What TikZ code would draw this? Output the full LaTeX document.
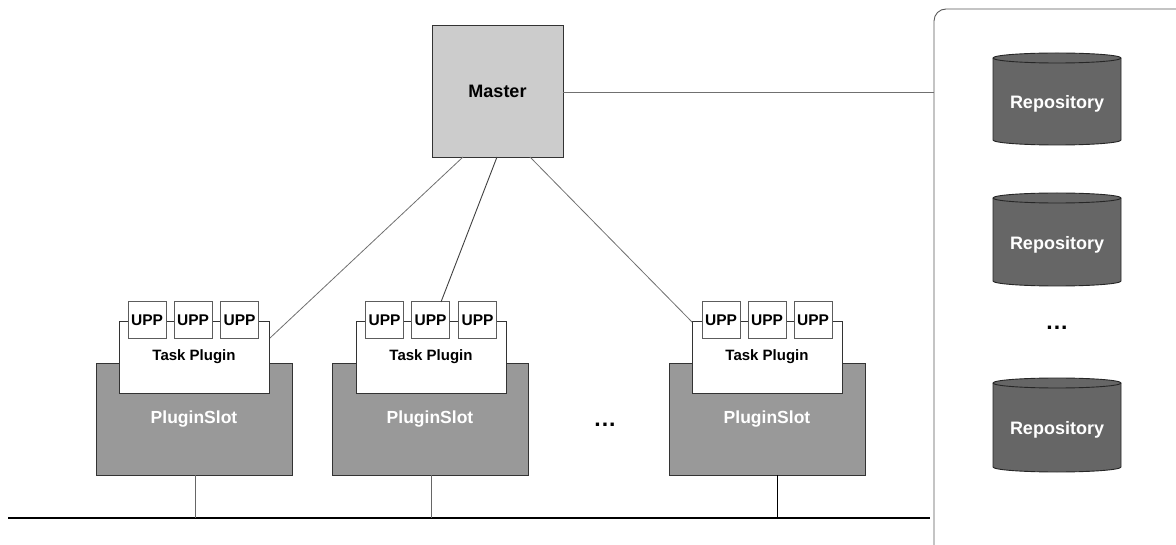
\documentclass[tikz,border=0pt]{standalone}
\usepackage{fontspec}
\setmainfont{Liberation Sans}
\usetikzlibrary{calc}
\definecolor{masterfill}{HTML}{CCCCCC}
\definecolor{slotfill}{HTML}{999999}
\definecolor{repofill}{HTML}{666666}
\definecolor{edgegray}{HTML}{333333}
\definecolor{linegray}{HTML}{707070}
\tikzset{
  masterbox/.style={draw=edgegray, fill=masterfill, line width=0.9pt, minimum width=131pt, minimum height=132pt, inner sep=0pt, font=\fontsize{18}{20}\selectfont\bfseries},
  slotbox/.style={draw=edgegray, fill=slotfill, line width=0.9pt, minimum width=196pt, minimum height=112pt, inner sep=0pt, text=white, font=\fontsize{17.5}{20}\selectfont\bfseries},
  taskbox/.style={draw=edgegray, fill=white, line width=0.8pt, minimum width=150pt, minimum height=72pt, inner sep=0pt, font=\fontsize{15}{18}\selectfont\bfseries},
  uppbox/.style={draw=edgegray!80, fill=white, line width=0.8pt, minimum width=38pt, minimum height=37pt, inner sep=0pt, font=\fontsize{15.5}{18}\selectfont\bfseries},
  conn/.style={draw=linegray, line width=0.8pt},
  repo/.style={draw=black!85, fill=repofill, line width=0.9pt},
  repolabel/.style={text=white, inner sep=0pt, font=\fontsize{18}{20}\selectfont\bfseries},
  dotslabel/.style={inner sep=0pt, font=\fontsize{23}{25}\selectfont\bfseries},
}
\begin{document}
\begin{tikzpicture}[x=1pt,y=-1pt]
\useasboundingbox (0,0) rectangle (1176,545);
\clip (0,0) rectangle (1176,545);
% repository container
\draw[draw=black!65, line width=0.9pt, rounded corners=12pt] (934,9) rectangle (1190,570);
% master
\node[masterbox] (master) at (497.5,91) {Master};
\coordinate (mr) at (563,92);
\coordinate (cl) at (934,92);
\draw[conn] (mr) -- (cl);
% slots
\node[slotbox] (slot1) at (194,419) {PluginSlot};
\node[slotbox] (slot2) at (430,419) {PluginSlot};
\node[slotbox] (slot3) at (767,419) {PluginSlot};
% task plugins
\node[taskbox] (tp1) at (194,357) {Task Plugin};
\node[taskbox] (tp2) at (431,357) {Task Plugin};
\node[taskbox] (tp3) at (767,357) {Task Plugin};
% UPPs
\node[uppbox] (u11) at (147,320) {UPP};
\node[uppbox] (u12) at (193,320) {UPP};
\node[uppbox] (u13) at (239.5,320) {UPP};
\node[uppbox] (u21) at (384.5,320) {UPP};
\node[uppbox] (u22) at (430.5,320) {UPP};
\node[uppbox] (u23) at (477.5,320) {UPP};
\node[uppbox] (u31) at (721,320) {UPP};
\node[uppbox] (u32) at (767,320) {UPP};
\node[uppbox] (u33) at (813,320) {UPP};
% master connectors
\coordinate (ms1) at (463,157);
\coordinate (ms2) at (497,157);
\coordinate (ms3) at (530,157);
\coordinate (e1) at (270,338);
\coordinate (e2) at (441,302);
\coordinate (e3) at (692,322);
\draw[conn] (ms1) -- (e1);
\draw[draw=black!75, line width=0.9pt] (ms2) -- (e2);
\draw[conn] (ms3) -- (e3);
% bus
\coordinate (busl) at (8,518);
\coordinate (busr) at (930,518);
\draw[black, line width=2.6pt] (busl) -- (busr);
\coordinate (b1) at (195,518);
\coordinate (b2) at (431,518);
\coordinate (b3) at (777,518);
\coordinate (s3b) at (777,475);
\draw[draw=black!60, line width=0.9pt] (slot1.south -| b1) -- (b1);
\draw[draw=black!60, line width=0.9pt] (slot2.south -| b2) -- (b2);
\draw[draw=black, line width=0.9pt] (s3b) -- (b3);
% dots
\node[dotslabel] (dots1) at (605,425) {.\kern1pt.\kern1pt.};
% repositories
\foreach \t/\b/\n in {53/145/r1, 193/286/r2, 378/472/r3}{
  \path[repo] (993,\t+5) -- (993,\b-5) arc[start angle=180,end angle=360,x radius=64pt,y radius=5pt] -- (1121,\t+5) arc[start angle=0,end angle=180,x radius=64pt,y radius=5pt] -- cycle;
  \draw[draw=black!85, line width=0.9pt] (993,\t+5) arc[start angle=180,end angle=360,x radius=64pt,y radius=5pt];
  \node[repolabel] (\n) at (1057,{(\t+\b)/2+5}) {Repository};
}
\node[dotslabel] (dots2) at (1057,328) {.\kern1pt.\kern1pt.};
\end{tikzpicture}
\end{document}
